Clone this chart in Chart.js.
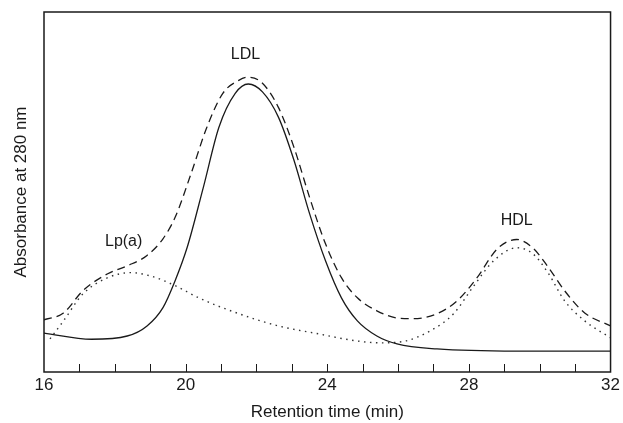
<!DOCTYPE html>
<html>
<head>
<meta charset="utf-8">
<script src="https://cdn.jsdelivr.net/npm/chart.js@4/dist/chart.umd.min.js"></script>
<style>
html,body{margin:0;padding:0;background:#fff;}
#wrap{width:623px;height:423px;position:relative;}
</style>
</head>
<body>
<div id="wrap"><canvas id="c" width="623" height="423"></canvas></div>
<script>
// Retention time (min) and absorbance (arbitrary units, 0-100)
const solidX = [16, 17.34, 18.35, 18.91, 19.36, 19.7, 20.04, 20.5, 20.94, 21.4, 21.77, 22.17, 22.62, 23.06, 23.5, 23.95, 24.4, 24.85, 25.4, 25.97, 27.1, 29.35, 32];
const solidY = [10.8, 9.1, 10.0, 12.8, 17.9, 25.3, 34.5, 51.3, 68, 77.4, 80, 77.8, 70.8, 58.8, 44, 30.9, 20.6, 14.2, 10, 7.8, 6.4, 5.8, 5.8];

const dashedX = [16, 16.55, 17.1, 17.8, 18.35, 18.9, 19.36, 19.7, 20.15, 20.6, 21.05, 21.5, 21.77, 22.17, 22.62, 23.06, 23.5, 23.95, 24.4, 24.85, 25.4, 25.97, 26.4, 27.1, 27.67, 28.23, 28.8, 29.35, 29.8, 30.25, 30.7, 31.27, 32];
const dashedY = [14.5, 16.4, 22.6, 27.3, 29.5, 32.3, 37, 42.9, 55, 68, 77.4, 81, 81.9, 80.2, 73.5, 62.4, 48.5, 35.6, 26.2, 20.6, 17, 15, 14.8, 16.2, 19.8, 26.2, 34.2, 36.8, 34.5, 29, 22.6, 16.4, 12.8];

const dottedX = [16.17, 16.55, 17.1, 17.8, 18.46, 19.0, 19.7, 20.37, 21.5, 22.62, 23.75, 24.85, 25.5, 26.2, 26.9, 27.57, 28.1, 28.7, 29.35, 29.8, 30.25, 30.7, 31.27, 32];
const dottedY = [9.2, 14.2, 21.7, 26.2, 27.6, 26.7, 24, 20.6, 16.2, 12.8, 10.6, 8.6, 8.1, 8.6, 11.4, 16.2, 23.4, 30.9, 34.5, 32.9, 27.3, 19.8, 14.2, 9.5];

const xTickLabels = [16, 20, 24, 28, 32];
const peakNames = ['Lp(a)', 'LDL', 'HDL'];
const peakX = [18.25, 21.69, 29.35];
const peakY = [36.2, 88.3, 42.1];

const pts = (xs, ys) => xs.map((x, i) => ({x, y: ys[i]}));
const FONT = 'Liberation Sans, Arial, sans-serif';
const INK = '#1a1a1a';

const overlay = {
  id: 'overlay',
  afterDraw(chart) {
    const {ctx, chartArea: a, scales: {x, y}} = chart;
    ctx.save();
    // frame
    ctx.strokeStyle = INK;
    ctx.lineWidth = 1.5;
    ctx.strokeRect(a.left, a.top, a.right - a.left, a.bottom - a.top);
    // inward ticks every minute
    ctx.lineWidth = 1;
    for (let t = Math.ceil(x.min) + 1; t < x.max; t++) {
      const px = Math.round(x.getPixelForValue(t)) + 0.5;
      ctx.beginPath();
      ctx.moveTo(px, a.bottom);
      ctx.lineTo(px, a.bottom - 8);
      ctx.stroke();
    }
    // peak labels
    ctx.fillStyle = INK;
    ctx.font = '16px ' + FONT;
    ctx.textAlign = 'center';
    ctx.textBaseline = 'middle';
    peakNames.forEach((n, i) => {
      ctx.fillText(n, x.getPixelForValue(peakX[i]), y.getPixelForValue(peakY[i]));
    });
    ctx.restore();
  }
};

new Chart(document.getElementById('c'), {
  type: 'line',
  data: {
    datasets: [
      {label: 'Total', data: pts(dashedX, dashedY), borderColor: INK, borderWidth: 1.3, borderDash: [8, 5], cubicInterpolationMode: 'monotone', pointRadius: 0, fill: false},
      {label: 'LDL', data: pts(solidX, solidY), borderColor: INK, borderWidth: 1.3, cubicInterpolationMode: 'monotone', pointRadius: 0, fill: false},
      {label: 'Lp(a)+HDL', data: pts(dottedX, dottedY), borderColor: '#333', borderWidth: 1.4, borderDash: [1.5, 4.5], cubicInterpolationMode: 'monotone', pointRadius: 0, fill: false}
    ]
  },
  options: {
    responsive: false,
    animation: false,
    layout: {padding: {top: 12, right: 0, left: 0, bottom: 0}},
    plugins: {legend: {display: false}, tooltip: {enabled: false}},
    scales: {
      x: {
        type: 'linear', min: 16, max: 32,
        afterBuildTicks: (s) => { s.ticks = xTickLabels.map(v => ({value: v})); },
        grid: {display: false, drawTicks: false},
        border: {display: false},
        ticks: {color: INK, font: {family: FONT, size: 17}, padding: 3, maxRotation: 0},
        title: {display: true, text: 'Retention time (min)', color: INK, font: {family: FONT, size: 17}, padding: {top: 4, bottom: 0}},
        afterFit: (s) => { s.height = 51; }
      },
      y: {
        min: 0, max: 100,
        grid: {display: false, drawTicks: false},
        border: {display: false},
        ticks: {display: false},
        title: {display: true, text: 'Absorbance at 280 nm', color: INK, font: {family: FONT, size: 17}, padding: {top: 11, bottom: 0}},
        afterFit: (s) => { s.width = 44; }
      }
    }
  },
  plugins: [overlay]
});
</script>
</body>
</html>
